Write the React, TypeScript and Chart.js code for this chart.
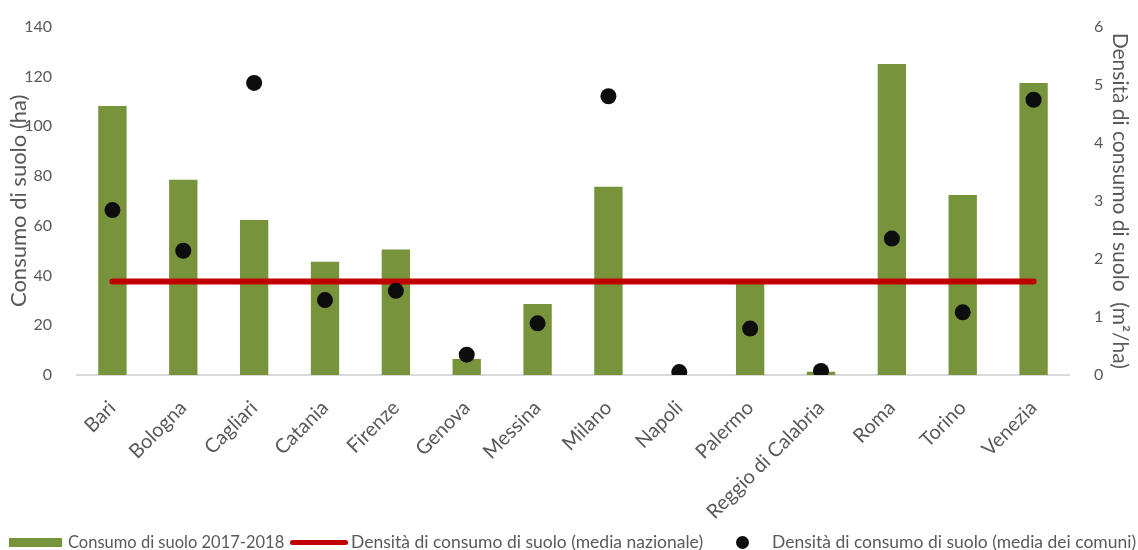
import React, { useEffect, useRef } from "react";
import { Chart, registerables } from "chart.js";

Chart.register(...registerables);

const categories = [
  "Bari", "Bologna", "Cagliari", "Catania", "Firenze", "Genova", "Messina",
  "Milano", "Napoli", "Palermo", "Reggio di Calabria", "Roma", "Torino", "Venezia",
];
const consumo = [108.1, 78.5, 62.3, 45.5, 50.4, 6.4, 28.5, 75.6, 0, 37.5, 1.3, 125.0, 72.3, 117.3];
const densitaComuni = [2.84, 2.14, 5.03, 1.29, 1.45, 0.35, 0.89, 4.8, 0.05, 0.8, 0.07, 2.35, 1.08, 4.74];
const mediaNazionale = 1.61;
const leftTicks = [0, 20, 40, 60, 80, 100, 120, 140];
const rightTicks = [0, 1, 2, 3, 4, 5, 6];

const labelBar = "Consumo di suolo 2017-2018";
const labelLine = "Densità di consumo di suolo (media nazionale)";
const labelDots = "Densità di consumo di suolo (media dei comuni)";

const GREEN = "#77933C";
const RED = "#C00000";
const DOT = "#0D0D0D";
const GRAY = "#595959";
const FONT = "Lato, 'Open Sans', sans-serif";

export default function App() {
  const ref = useRef<HTMLCanvasElement | null>(null);

  useEffect(() => {
    document.body.style.margin = "0";
    const ctx = ref.current;
    if (!ctx) return;
    const chart = new Chart(ctx, {
      data: {
        labels: categories,
        datasets: [
          {
            type: "line",
            label: labelDots,
            data: densitaComuni,
            yAxisID: "y1",
            showLine: false,
            pointRadius: 8,
            pointBackgroundColor: DOT,
            pointBorderColor: DOT,
            pointBorderWidth: 0,
            order: 0,
          },
          {
            type: "line",
            label: labelLine,
            data: categories.map(() => mediaNazionale),
            yAxisID: "y1",
            borderColor: RED,
            borderWidth: 6,
            borderCapStyle: "round",
            pointRadius: 0,
            fill: false,
            order: 1,
          },
          {
            type: "bar",
            label: labelBar,
            data: consumo,
            yAxisID: "y",
            backgroundColor: GREEN,
            categoryPercentage: 1,
            barPercentage: 0.4,
            order: 2,
          },
        ],
      },
      options: {
        responsive: false,
        animation: false,
        layout: { padding: { top: 23, bottom: 0, left: 0, right: 0 } },
        plugins: { legend: { display: false }, tooltip: { enabled: false } },
        scales: {
          x: {
            type: "category",
            offset: true,
            grid: { display: false },
            border: { display: true, color: "#D9D9D9", width: 2 },
            ticks: {
              color: GRAY,
              font: { family: FONT, size: 20 },
              minRotation: 45,
              maxRotation: 45,
              padding: 13,
              autoSkip: false,
            },
            afterFit: (s: any) => { s.height = 175; },
          },
          y: {
            position: "left",
            min: 0,
            max: 140,
            afterBuildTicks: (s: any) => { s.ticks = leftTicks.map((v) => ({ value: v })); },
            grid: { display: false },
            border: { display: false },
            ticks: { color: GRAY, font: { family: FONT, size: 16 }, padding: 17 },
            title: {
              display: true,
              text: "Consumo di suolo (ha)",
              color: GRAY,
              font: { family: FONT, size: 22 },
              padding: { top: 6, bottom: 0 },
            },
            afterFit: (s: any) => { s.width = 77; },
          },
          y1: {
            position: "right",
            min: 0,
            max: 6,
            afterBuildTicks: (s: any) => { s.ticks = rightTicks.map((v) => ({ value: v })); },
            grid: { display: false },
            border: { display: false },
            ticks: { color: GRAY, font: { family: FONT, size: 16 }, padding: 17 },
            title: {
              display: true,
              text: "Densità di consumo di suolo  (m²/ha)",
              color: GRAY,
              font: { family: FONT, size: 21 },
              padding: { top: 6, bottom: 0 },
            },
            afterFit: (s: any) => { s.width = 69; },
          },
        },
      },
    } as any);
    return () => chart.destroy();
  }, []);

  const textStyle: React.CSSProperties = {
    position: "absolute",
    top: 531,
    fontFamily: FONT,
    fontSize: 17.5,
    color: GRAY,
    whiteSpace: "nowrap",
    lineHeight: "22px",
  };

  return (
    <div style={{ position: "relative", width: 1138, height: 550, overflow: "hidden", background: "#fff" }}>
      <canvas ref={ref} width={1138} height={550} style={{ display: "block" }} />
      <div style={{ position: "absolute", left: 9, top: 538, width: 53, height: 9, background: GREEN }} />
      <div style={{ ...textStyle, left: 68, fontSize: 16.5 }}>{labelBar}</div>
      <div style={{ position: "absolute", left: 290, top: 540, width: 58, height: 5, borderRadius: 3, background: RED }} />
      <div style={{ ...textStyle, left: 351 }}>{labelLine}</div>
      <div style={{ position: "absolute", left: 736, top: 536, width: 13, height: 13, borderRadius: "50%", background: DOT }} />
      <div style={{ ...textStyle, left: 772 }}>{labelDots}</div>
    </div>
  );
}
